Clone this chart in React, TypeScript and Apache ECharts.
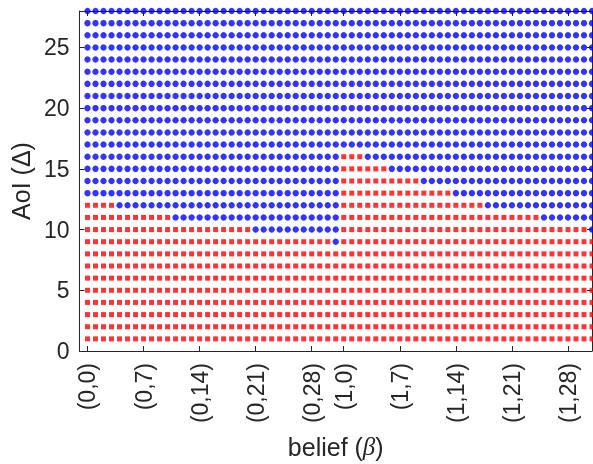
import React, { useEffect, useRef } from "react";
import * as echarts from "echarts";

// belief categories: (group, step)
const beliefGroups = [0, 1];
const beliefStepsPerGroup = 32;
const categories: string[] = [];
beliefGroups.forEach((g) => {
  for (let k = 0; k < beliefStepsPerGroup; k++) categories.push(`(${g},${k})`);
});

const xTickLabels = ["(0,0)", "(0,7)", "(0,14)", "(0,21)", "(0,28)", "(1,0)", "(1,7)", "(1,14)", "(1,21)", "(1,28)"];
const yTickValues = [0, 5, 10, 15, 20, 25];

const aoiLevels = [1, 2, 3, 4, 5, 6, 7, 8, 9, 10, 11, 12, 13, 14, 15, 16, 17, 18, 19, 20, 21, 22, 23, 24, 25, 26, 27, 28];

// highest AoI that is marked red (square) for each belief category
const redMaxAoI = [
  12, 12, 12, 12,
  11, 11, 11, 11, 11, 11, 11,
  10, 10, 10, 10, 10, 10, 10, 10, 10, 10,
  9, 9, 9, 9, 9, 9, 9, 9, 9, 9,
  8,
  16, 16, 16,
  15, 15, 15,
  14, 14, 14, 14,
  13, 13, 13, 13,
  12, 12, 12, 12,
  11, 11, 11, 11, 11, 11, 11,
  10, 10, 10, 10, 10, 10,
  9,
];

const TEXT = "#262626";
const FONT = "'Liberation Sans', Arial, Helvetica, sans-serif";

export default function App() {
  const ref = useRef<HTMLDivElement>(null);
  useEffect(() => {
    if (!ref.current) return;
    const chart = echarts.init(ref.current, undefined, { renderer: "svg" });
    const red: number[][] = [];
    const blue: number[][] = [];
    categories.forEach((_, i) => {
      aoiLevels.forEach((a) => {
        if (a <= redMaxAoI[i]) red.push([i, a]);
        else blue.push([i, a]);
      });
    });
    const xTickPos = xTickLabels.map((l) => categories.indexOf(l));
    const lineStyle = { color: TEXT, width: 1 };
    chart.setOption({
      animation: false,
      grid: { left: 78, right: 1, top: 11, bottom: 109, containLabel: false },
      xAxis: [
        {
          type: "value",
          min: -1,
          max: categories.length - 1,
          position: "bottom",
          axisLine: { show: true, onZero: false, lineStyle },
          axisTick: { show: true, inside: true, length: 5, customValues: xTickPos, lineStyle },
          axisLabel: {
            customValues: xTickPos,
            formatter: (v: number) => categories[v] ?? "",
            rotate: 90,
            fontSize: 23,
            color: TEXT,
            fontFamily: FONT,
            margin: 12,
          },
          splitLine: { show: false },
          name: "belief ({b|β})",
          nameLocation: "middle",
          nameGap: 83,
          nameTextStyle: {
            fontSize: 25,
            color: TEXT,
            fontFamily: FONT,
            rich: {
              b: { fontSize: 25, color: TEXT, fontStyle: "italic", fontFamily: "'Liberation Serif', serif" },
            },
          },
        },
        {
          type: "value",
          min: -1,
          max: categories.length - 1,
          position: "top",
          axisLine: { show: true, onZero: false, lineStyle },
          axisTick: { show: true, inside: true, length: 5, customValues: xTickPos, lineStyle },
          axisLabel: { show: false },
          splitLine: { show: false },
        },
      ],
      yAxis: [
        {
          type: "value",
          min: 0,
          max: 28,
          interval: 5,
          position: "left",
          axisLine: { show: true, onZero: false, lineStyle },
          axisTick: { show: true, inside: true, length: 5, customValues: yTickValues, lineStyle },
          axisLabel: { customValues: yTickValues, fontSize: 23, color: TEXT, fontFamily: FONT, margin: 10 },
          splitLine: { show: false },
          name: "AoI (Δ)",
          nameLocation: "middle",
          nameRotate: 90,
          nameGap: 46,
          nameTextStyle: { fontSize: 25, color: TEXT, fontFamily: FONT },
        },
        {
          type: "value",
          min: 0,
          max: 28,
          interval: 5,
          position: "right",
          axisLine: { show: true, onZero: false, lineStyle },
          axisTick: { show: true, inside: true, length: 5, customValues: yTickValues, lineStyle },
          axisLabel: { show: false },
          splitLine: { show: false },
        },
      ],
      series: [
        {
          type: "scatter",
          xAxisIndex: 0,
          yAxisIndex: 0,
          data: blue,
          symbol: "circle",
          symbolSize: 6.4,
          itemStyle: { color: "#0000ff" },
          clip: false,
        },
        {
          type: "scatter",
          xAxisIndex: 0,
          yAxisIndex: 0,
          data: red,
          symbol: "rect",
          symbolSize: 5,
          itemStyle: { color: "#ff0000" },
          clip: false,
        },
      ],
    });
    return () => chart.dispose();
  }, []);
  return <div ref={ref} style={{ position: "fixed", left: 0, top: 0, width: 593, height: 464 }} />;
}
